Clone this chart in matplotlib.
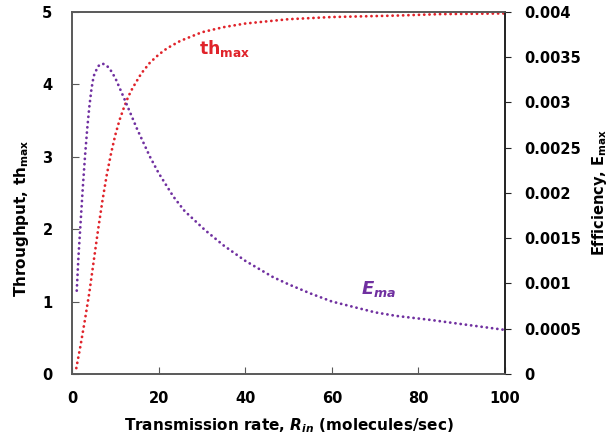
import matplotlib
matplotlib.use("Agg")
import matplotlib.pyplot as plt

# Throughput th_max (left axis)
rate_th = [1, 2, 3, 4, 5, 6, 7, 8, 9, 10, 11, 12, 13, 14, 16, 18, 20, 22, 25, 30, 35, 40, 45,
           50, 60, 75, 85, 100]
th_max = [0.08, 0.40, 0.75, 1.12, 1.55, 1.98, 2.38, 2.74, 3.04, 3.30, 3.51, 3.68, 3.83, 3.95,
          4.15, 4.30, 4.41, 4.50, 4.60, 4.72, 4.79, 4.84, 4.87, 4.90, 4.93, 4.95, 4.97, 4.98]

# Efficiency E_max (right axis)
rate_e = [1.1, 1.5, 2, 2.5, 3, 3.5, 4, 4.5, 5, 6, 7, 8, 9, 10, 12, 15, 18, 20, 23.4, 26, 30.7,
          35, 40, 46.4, 50, 55, 60, 65, 70, 75, 82.7, 90, 100]
e_max = [0.00092, 0.00130, 0.00168, 0.00206, 0.00240, 0.00270, 0.00295, 0.00315, 0.00329,
         0.00340, 0.00343, 0.00341, 0.00335, 0.00327, 0.00305, 0.00271, 0.00240, 0.00222,
         0.00196, 0.00180, 0.00159, 0.00142, 0.00125, 0.00107, 0.00099, 0.00089, 0.00080,
         0.00074, 0.00068, 0.00064, 0.000597, 0.00055, 0.000486]

x_ticks = [0, 20, 40, 60, 80, 100]
y_ticks = [0, 1, 2, 3, 4, 5]
e_ticks = [0, 0.0005, 0.001, 0.0015, 0.002, 0.0025, 0.003, 0.0035, 0.004]
e_labels = ["0", "0.0005", "0.001", "0.0015", "0.002", "0.0025", "0.003", "0.0035", "0.004"]

RED = "#e0232a"
PURPLE = "#7030a0"
SPINE = "#595959"

plt.rcParams["font.family"] = ["DejaVu Sans"]

fig = plt.figure(figsize=(6.1, 4.43), dpi=100)
ax = fig.add_axes([0.118, 0.156, 0.710, 0.817])
ax2 = ax.twinx()

dot_style = (0, (0.05, 1.85))
ax.plot(rate_th, th_max, color=RED, lw=2.0, linestyle=dot_style,
        dash_capstyle="round", solid_capstyle="round")
ax2.plot(rate_e, e_max, color=PURPLE, lw=2.0, linestyle=dot_style,
         dash_capstyle="round", solid_capstyle="round")

ax.set_xlim(0, 100)
ax.set_ylim(0, 5)
ax2.set_ylim(0, 0.004)

ax.set_xticks(x_ticks)
ax.set_xticklabels([str(v) for v in x_ticks], fontsize=10.5, fontweight="bold")
ax.set_yticks(y_ticks)
ax.set_yticklabels([str(v) for v in y_ticks], fontsize=10.5, fontweight="bold")
ax2.set_yticks(e_ticks)
ax2.set_yticklabels(e_labels, fontsize=10.5, fontweight="bold")

ax.tick_params(axis="x", direction="in", length=5, pad=12, color=SPINE, top=False)
ax.tick_params(axis="y", direction="in", length=5, pad=14, color=SPINE)
ax2.tick_params(axis="y", direction="out", length=4, pad=10, color="#222222")

for a in (ax, ax2):
    for s in ("left", "bottom", "top"):
        a.spines[s].set_color(SPINE)
        a.spines[s].set_linewidth(1.2)
    a.spines["right"].set_color("#222222")
    a.spines["right"].set_linewidth(1.2)

ax.set_xlabel(r"Transmission rate, $\mathbfit{R}_{\mathbfit{in}}$ (molecules/sec)",
              fontsize=11, fontweight="bold", labelpad=8)
ax.set_ylabel(r"Throughput, th$_{\mathbf{max}}$", fontsize=11, fontweight="bold")
ax.yaxis.set_label_coords(-0.095, 0.43)
ax2.set_ylabel(r"Efficiency, E$_{\mathbf{max}}$", fontsize=10.5, fontweight="bold", labelpad=6)

ax.text(29.3, 4.5, r"th$_{\mathbf{max}}$", color=RED, fontsize=12.5, fontweight="bold",
        ha="left", va="center")
ax2.text(66.8, 0.000935, r"$\mathbfit{E}_{\mathbfit{ma}}$", color=PURPLE, fontsize=13,
         ha="left", va="center")

fig.savefig("out.png", dpi=100)
